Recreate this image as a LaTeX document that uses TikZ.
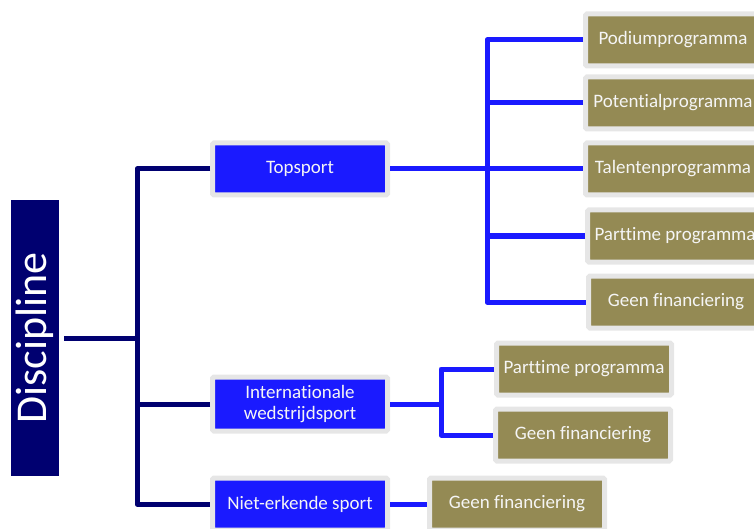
\documentclass[tikz,border=0pt]{standalone}
\usepackage{fontspec}
\setmainfont{Carlito}[Ligatures=NoCommon]
\usepackage{tikz}
\usepackage{xcolor}
\definecolor{donkerblauw}{RGB}{0,0,112}
\definecolor{blauw}{RGB}{26,26,255}
\definecolor{olijf}{RGB}{148,138,84}
\definecolor{lichtgrijs}{RGB}{230,230,230}
\definecolor{tekstwit}{RGB}{245,245,245}

\tikzset{
    kader/.style={draw=lichtgrijs, line width=5pt, rounded corners=1.5pt, text=tekstwit,
        minimum width=175pt, minimum height=52pt, inner sep=0pt, align=center,
        font=\fontsize{19}{21}\selectfont},
    niveaueen/.style={kader, fill=blauw},
    niveautwee/.style={kader, fill=olijf},
    lijneen/.style={donkerblauw, line width=5pt, line join=round},
    lijntwee/.style={blauw, line width=5pt, line join=round}
}

\begin{document}
\begin{tikzpicture}[x=1pt, y=-1pt]
    \useasboundingbox (0,0) rectangle (754,529);

    % Discipline
    \node[fill=donkerblauw, rotate=90, minimum width=276pt, minimum height=48pt, inner sep=0pt,
        outer sep=5pt, text=white, font=\fontsize{44}{48}\selectfont] (disc) at (35,338) {Discipline};

    % Eerste niveau
    \node[niveaueen] (top) at (300,169) {Topsport};
    \node[niveaueen, minimum height=54pt] (intl) at (300,404) {Internationale\\wedstrijdsport};
    \node[niveaueen] (niet) at (300,504) {Niet-erkende sport};

    % Tweede niveau
    \node[niveautwee] (pod) at (673,40) {Podiumprogramma};
    \node[niveautwee] (pot) at (673,103) {Potentialprogramma};
    \node[niveautwee] (tal) at (673,169) {Talentenprogramma};
    \node[niveautwee] (par1) at (675,236) {Parttime programma};
    \node[niveautwee] (geen1) at (676,302) {Geen financiering};
    \node[niveautwee] (par2) at (584,369) {Parttime programma};
    \node[niveautwee] (geen2) at (583,435) {Geen financiering};
    \node[niveautwee] (geen3) at (517,504) {Geen financiering};

    % Verbindingen links
    \coordinate (knoop1) at (137,338);
    \draw[lijneen] (disc.south) -- (knoop1);
    \draw[lijneen] (top.west) -| (knoop1) |- (niet.west);
    \draw[lijneen] (intl.west) -| (knoop1);

    % Verbindingen Topsport
    \coordinate (knoop2) at (487,169);
    \draw[lijntwee] (top.east) -- (tal.west);
    \draw[lijntwee] (pod.west) -| (knoop2) |- (geen1.west);
    \draw[lijntwee] (pot.west) -| (knoop2);
    \draw[lijntwee] (par1.west) -| (knoop2);

    % Verbindingen Internationale wedstrijdsport
    \coordinate (knoop3) at (441,404);
    \draw[lijntwee] (intl.east) -- (knoop3);
    \draw[lijntwee] (par2.west) -| (knoop3) |- (geen2.west);

    % Niet-erkende sport
    \draw[lijntwee] (niet.east) -- (geen3.west);
\end{tikzpicture}
\end{document}
